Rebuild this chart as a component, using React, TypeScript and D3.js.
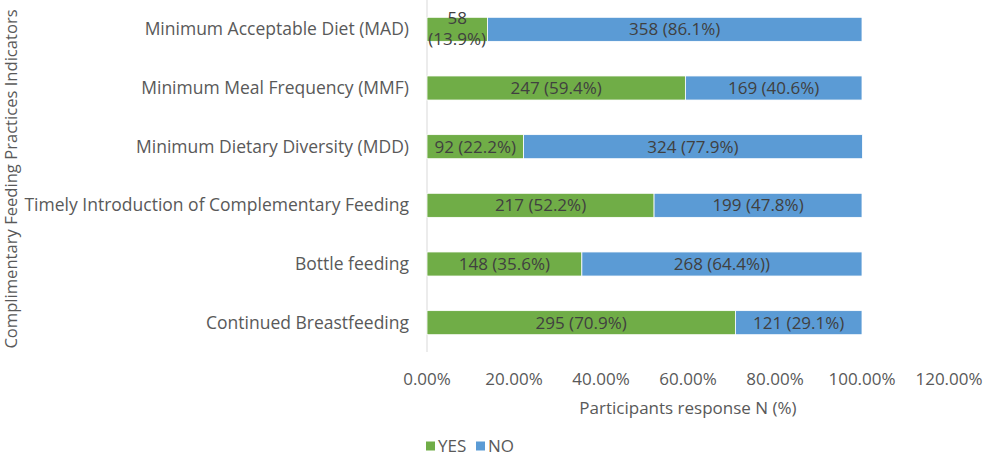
import * as d3 from 'd3';
import React, { useEffect, useRef } from 'react';

const categories = [
  'Minimum Acceptable Diet (MAD)',
  'Minimum Meal Frequency (MMF)',
  'Minimum Dietary Diversity (MDD)',
  'Timely Introduction of Complementary Feeding',
  'Bottle feeding',
  'Continued Breastfeeding',
];
const yesPct = [13.9, 59.4, 22.2, 52.2, 35.6, 70.9];
const noPct = [86.1, 40.6, 77.9, 47.8, 64.4, 29.1];
const yesLabels = ['58 (13.9%)', '247 (59.4%)', '92 (22.2%)', '217 (52.2%)', '148 (35.6%)', '295 (70.9%)'];
const noLabels = ['358 (86.1%)', '169 (40.6%)', '324 (77.9%)', '199 (47.8%)', '268 (64.4%))', '121 (29.1%)'];
const xTicks = [0, 20, 40, 60, 80, 100, 120];
const seriesNames = ['YES', 'NO'];

const width = 986;
const height = 461;
const FONT = '"Open Sans", "Liberation Sans", sans-serif';
const TEXT = '#595959';

const App: React.FC = () => {
  const ref = useRef<SVGSVGElement>(null);

  useEffect(() => {
    if (!ref.current) return;
    const svg = d3.select(ref.current);
    svg.selectAll('*').remove();

    const x = d3.scaleLinear().domain([0, 120]).range([427, 949]);
    const y = d3.scaleBand().domain(categories).range([0, 352]).paddingInner(0.59).paddingOuter(0.295);
    const color = d3.scaleOrdinal<string, string>().domain(seriesNames).range(['#70AD47', '#5B9BD5']);

    const rows = categories.map((c, i) => ({ c, yes: yesPct[i], no: noPct[i], yl: yesLabels[i], nl: noLabels[i] }));

    // axis line
    svg.append('line')
      .attr('x1', x(0)).attr('x2', x(0))
      .attr('y1', 0).attr('y2', 352)
      .attr('stroke', '#d9d9d9').attr('stroke-width', 1);

    const g = svg.append('g');
    const row = g.selectAll('g.row').data(rows).join('g').attr('class', 'row');

    row.append('rect')
      .attr('x', x(0))
      .attr('y', (d) => y(d.c)!)
      .attr('width', (d) => x(d.yes) - x(0))
      .attr('height', y.bandwidth())
      .attr('fill', color('YES'))
      .attr('stroke', '#fff').attr('stroke-width', 0.8);

    row.append('rect')
      .attr('x', (d) => x(d.yes))
      .attr('y', (d) => y(d.c)!)
      .attr('width', (d) => x(d.yes + d.no) - x(d.yes))
      .attr('height', y.bandwidth())
      .attr('fill', color('NO'))
      .attr('stroke', '#fff').attr('stroke-width', 0.8);

    // bar labels
    row.each(function (d) {
      const r = d3.select(this);
      const cy = y(d.c)! + y.bandwidth() / 2;
      const yesText = r.append('text')
        .attr('x', (x(0) + x(d.yes)) / 2)
        .attr('y', cy)
        .attr('text-anchor', 'middle')
        .attr('font-family', FONT).attr('font-size', 17).attr('fill', '#404040');
      const yesW = x(d.yes) - x(0);
      if (yesW < 70) {
        const parts = d.yl.split(' ');
        yesText.append('tspan').attr('x', (x(0) + x(d.yes)) / 2).attr('dy', -5).text(parts[0]);
        yesText.append('tspan').attr('x', (x(0) + x(d.yes)) / 2).attr('dy', 21).text(parts[1]);
      } else {
        yesText.attr('dy', '0.35em').text(d.yl);
      }
      r.append('text')
        .attr('x', (x(d.yes) + x(d.yes + d.no)) / 2)
        .attr('y', cy)
        .attr('dy', '0.35em')
        .attr('text-anchor', 'middle')
        .attr('font-family', FONT).attr('font-size', 17).attr('fill', '#404040')
        .text(d.nl);
    });

    // category labels
    g.selectAll('text.cat').data(categories).join('text')
      .attr('class', 'cat')
      .attr('x', 409)
      .attr('y', (d) => y(d)! + y.bandwidth() / 2)
      .attr('dy', '0.35em')
      .attr('text-anchor', 'end')
      .attr('font-family', FONT).attr('font-size', 17.5).attr('fill', TEXT)
      .text((d) => d);

    // x tick labels
    g.selectAll('text.tick').data(xTicks).join('text')
      .attr('class', 'tick')
      .attr('x', (d) => x(d))
      .attr('y', 379)
      .attr('dy', '0.35em')
      .attr('text-anchor', 'middle')
      .attr('font-family', FONT).attr('font-size', 17).attr('fill', TEXT)
      .text((d) => d3.format('.2f')(d) + '%');

    svg.append('text')
      .attr('x', 688).attr('y', 408).attr('dy', '0.35em')
      .attr('text-anchor', 'middle')
      .attr('font-family', FONT).attr('font-size', 17).attr('fill', TEXT)
      .text('Participants response N (%)');

    svg.append('text')
      .attr('transform', `translate(11,179) rotate(-90)`)
      .attr('dy', '0.35em')
      .attr('text-anchor', 'middle')
      .attr('font-family', FONT).attr('font-size', 16.6).attr('fill', TEXT)
      .text('Complimentary Feeding Practices Indicators');

    // legend
    const leg = svg.append('g').attr('transform', 'translate(426,446)');
    const legX = [0, 50];
    seriesNames.forEach((s, i) => {
      leg.append('rect').attr('x', legX[i]).attr('y', -4.5).attr('width', 9).attr('height', 9).attr('fill', color(s));
      leg.append('text').attr('x', legX[i] + 12).attr('y', 0).attr('dy', '0.35em')
        .attr('font-family', FONT).attr('font-size', 17).attr('fill', TEXT).text(s);
    });
  }, []);

  return (
    <svg
      ref={ref}
      width={width}
      height={height}
      viewBox={`0 0 ${width} ${height}`}
      style={{ position: 'absolute', left: 0, top: 0, background: '#fff' }}
    ></svg>
  );
};

export default App;
